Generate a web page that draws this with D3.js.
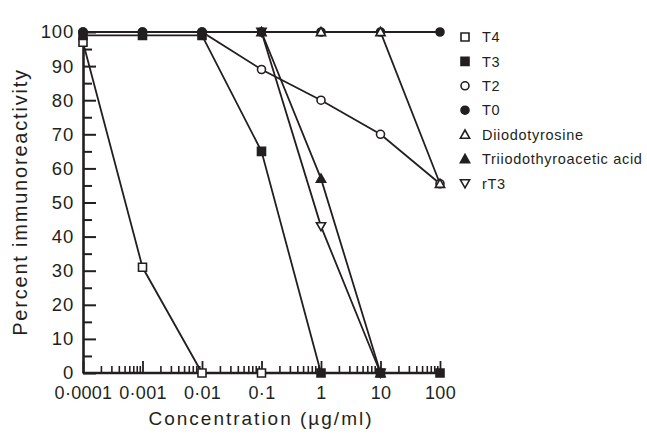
<!DOCTYPE html>
<html>
<head>
<meta charset="utf-8">
<script src="https://cdn.jsdelivr.net/npm/d3@7"></script>
<style>
  body { margin: 0; background: #fff; }
  svg { display: block; font-family: "Liberation Sans", Arial, sans-serif; }
</style>
</head>
<body>
<div id="chart"></div>
<script>
// concentrations (µg/ml) and the tick labels used on the x axis
const concentrations = [0.0001, 0.001, 0.01, 0.1, 1, 10, 100];
const concLabels = ["0·0001", "0·001", "0·01", "0·1", "1", "10", "100"];
const yTicks = [0, 10, 20, 30, 40, 50, 60, 70, 80, 90, 100];

// percent immunoreactivity per compound (same order as concentrations, null = not plotted)
const t4 = [97, 31, 0, 0];
const t3 = [99, 99, 99, 65, 0, 0, 0];
const t2 = [100, 100, 100, 89, 80, 70, 55.5];
const t0 = [100, 100, 100, 100, 100, 100, 100];
const diiodotyrosine = [null, null, null, null, 100, 100, 55.5];
const triac = [null, null, null, 100, 57, 0];
const rt3 = [null, null, null, 100, 43, 0];

const seriesNames = ["T4", "T3", "T2", "T0", "Diiodotyrosine", "Triiodothyroacetic acid", "rT3"];
const seriesValues = [t4, t3, t2, t0, diiodotyrosine, triac, rt3];
const seriesMarkers = ["square-open", "square", "circle-open", "circle", "tri-open", "tri", "tri-down-open"];
// drawing order of the markers (which one ends up on top where they overlap)
const markerOrder = [2, 6, 0, 1, 3, 5, 4];

const ink = "#231f20";
const width = 647, height = 445;

const svg = d3.select("#chart").append("svg")
    .attr("width", width)
    .attr("height", height);

svg.append("rect").attr("width", width).attr("height", height).attr("fill", "#fff");

const x = d3.scaleLog().domain([0.0001, 100]).range([83, 440]);
const y = d3.scaleLinear().domain([0, 100]).range([373, 32]);

// marker path generator
function markerPath(kind) {
    if (kind.startsWith("square")) return "M-4,-4H4V4H-4Z";
    if (kind.startsWith("circle")) return "M4,0A4,4 0 1,1 -4,0A4,4 0 1,1 4,0Z";
    if (kind.startsWith("tri-down")) return "M-4.6,-3.6H4.6L0,4.4Z";
    return "M0,-4.6L4.6,3.6H-4.6Z";
}
function isOpen(kind) { return kind.endsWith("open"); }

// minor y ticks at the fives
const yMinor = d3.range(5, 100, 10);
svg.append("g")
    .attr("transform", "translate(83,0)")
    .call(d3.axisLeft(y).tickValues(yMinor).tickSize(-9).tickSizeOuter(0).tickFormat(""))
    .call(g => g.select(".domain").remove())
    .call(g => g.selectAll("line").attr("stroke", ink).attr("stroke-width", 2));

// y axis
svg.append("g")
    .attr("transform", "translate(83,0)")
    .call(d3.axisLeft(y).tickValues(yTicks).tickSize(-13).tickSizeOuter(0).tickPadding(9).tickFormat(d3.format("d")))
    .call(g => g.select(".domain").attr("stroke", ink).attr("stroke-width", 2.6))
    .call(g => g.selectAll("line").attr("stroke", ink).attr("stroke-width", 2))
    .call(g => g.selectAll("text")
        .attr("fill", ink)
        .style("font-size", "18.5px")
        .style("letter-spacing", "0.8px")
        .style("font-family", "'Liberation Sans', Arial, sans-serif"));

// minor x ticks (2..9 within each decade)
const xMinor = [];
concentrations.slice(0, -1).forEach(d => {
    for (let k = 2; k <= 9; k++) xMinor.push(d * k);
});
svg.append("g")
    .attr("transform", "translate(0,373)")
    .call(d3.axisBottom(x).tickValues(xMinor).tickSize(-7).tickSizeOuter(0).tickFormat(""))
    .call(g => g.select(".domain").remove())
    .call(g => g.selectAll("line").attr("stroke", ink).attr("stroke-width", 1.6));

// x axis
svg.append("g")
    .attr("transform", "translate(0,373)")
    .call(d3.axisBottom(x).tickValues(concentrations).tickSize(-12).tickSizeOuter(0).tickPadding(13)
        .tickFormat((d, i) => concLabels[i]))
    .call(g => g.select(".domain").attr("stroke", ink).attr("stroke-width", 2.6).attr("d", "M83,0H443"))
    .call(g => g.selectAll("line").attr("stroke", ink).attr("stroke-width", 1.8))
    .call(g => g.selectAll("text")
        .attr("fill", ink)
        .style("font-size", "18px")
        .style("letter-spacing", "0.3px")
        .style("font-family", "'Liberation Sans', Arial, sans-serif"));

// axis titles
svg.append("text")
    .attr("x", 261)
    .attr("y", 425)
    .attr("text-anchor", "middle")
    .attr("fill", ink)
    .style("font-size", "19px")
    .style("letter-spacing", "2px")
    .text("Concentration (µg/ml)");

svg.append("text")
    .attr("transform", "translate(27,202) rotate(-90)")
    .attr("text-anchor", "middle")
    .attr("fill", ink)
    .style("font-size", "20px")
    .style("letter-spacing", "1.8px")
    .text("Percent immunoreactivity");

// lines
const line = d3.line()
    .defined(d => d != null)
    .x((d, i) => x(concentrations[i]))
    .y(d => y(d));

seriesValues.forEach(vals => {
    svg.append("path")
        .attr("d", line(vals))
        .attr("fill", "none")
        .attr("stroke", ink)
        .attr("stroke-width", 1.8);
});

// markers
markerOrder.forEach(s => {
    const kind = seriesMarkers[s];
    const pts = seriesValues[s]
        .map((v, i) => ({ c: concentrations[i], v }))
        .filter(p => p.v != null);
    svg.append("g").selectAll("path")
        .data(pts)
        .join("path")
        .attr("transform", d => `translate(${x(d.c)},${y(d.v)})`)
        .attr("d", markerPath(kind))
        .attr("fill", isOpen(kind) ? "#fff" : ink)
        .attr("stroke", ink)
        .attr("stroke-width", 1.6);
});

// legend
const legend = svg.append("g");
seriesNames.forEach((name, i) => {
    const ly = 37 + i * 24.4;
    const kind = seriesMarkers[i];
    legend.append("path")
        .attr("transform", `translate(465,${ly})`)
        .attr("d", markerPath(kind))
        .attr("fill", isOpen(kind) ? "#fff" : ink)
        .attr("stroke", ink)
        .attr("stroke-width", 1.6);
    legend.append("text")
        .attr("x", 482)
        .attr("y", ly)
        .attr("dy", "0.36em")
        .attr("fill", ink)
        .style("font-size", "14.5px")
        .style("letter-spacing", "0.7px")
        .text(name);
});
</script>
</body>
</html>
